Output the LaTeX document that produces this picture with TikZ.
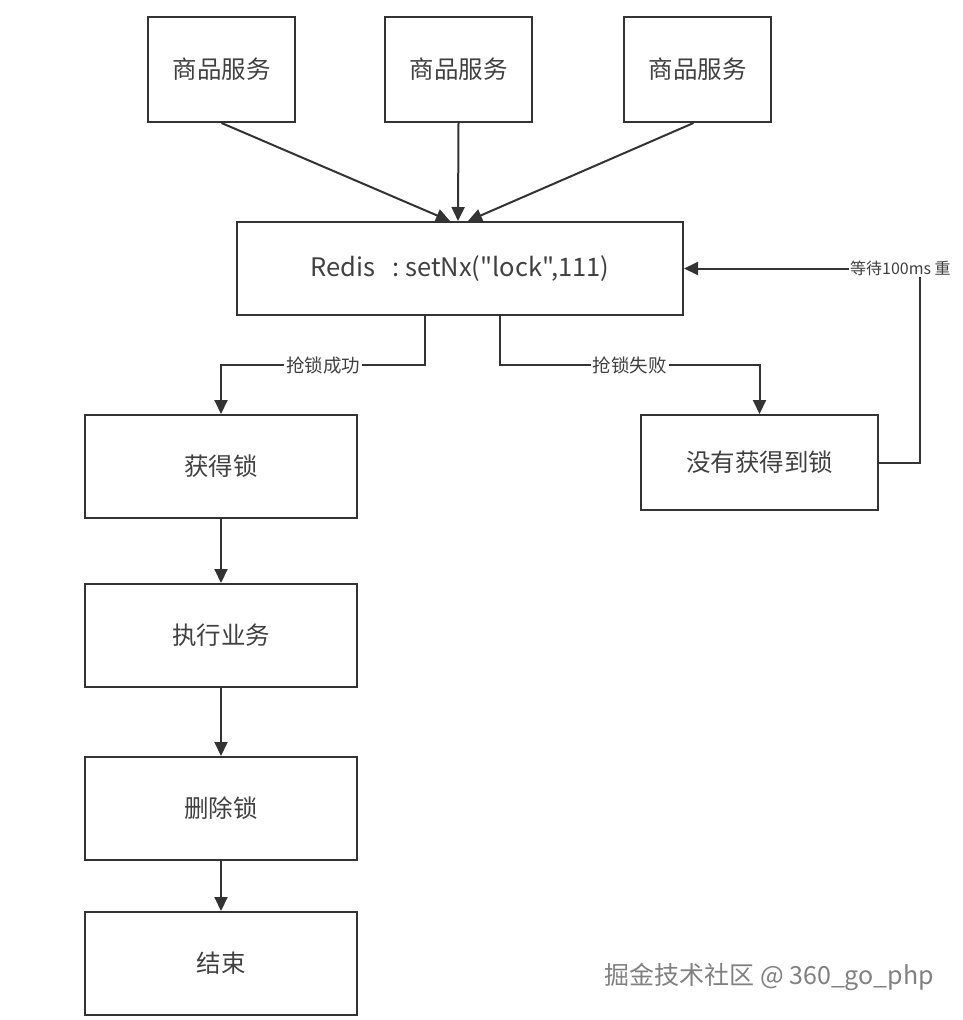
\documentclass[tikz,border=0pt]{standalone}
\usepackage{fontspec}
\setmainfont{Noto Sans CJK SC}
\newfontfamily\plainfont{Noto Sans CJK SC}
\usetikzlibrary{arrows.meta}
\definecolor{linegray}{HTML}{333333}
\definecolor{textgray}{HTML}{404040}

\begin{document}
\begin{tikzpicture}[x=1pt,y=-1pt,
    box/.style={draw=linegray, line width=2pt, inner sep=0pt, text=textgray,
      font=\fontsize{24.5}{28}\selectfont},
    arr/.style={draw=linegray, line width=2pt, -{Triangle[length=14pt,width=13pt]}},
    lbl/.style={fill=white, inner sep=2pt, text=textgray, font=\fontsize{18.5}{21}\selectfont}]
    \useasboundingbox (0,0) rectangle (962,1020);
    % Services
    \foreach \n/\x in {1/221.5,2/458.5,3/697.5} {
      \node[box, minimum width=147, minimum height=105] (svc\n) at (\x,69.5) {商品服务};
    }
    % Redis
    \node[box, minimum width=446, minimum height=93, font=\plainfont\fontsize{25.5}{29}\selectfont] (redis) at (460,268.5) {Redis\ \ \ :\ setNx("lock",111)};
    % Lock results
    \node[box, minimum width=272, minimum height=103] (lock) at (221,466.5) {获得锁};
    \node[box, minimum width=237, minimum height=95] (nolock) at (759.5,462.5) {没有获得到锁};
    \node[box, minimum width=272, minimum height=103] (work) at (221,635.5) {执行业务};
    \node[box, minimum width=272, minimum height=103] (unlock) at (221,808.5) {删除锁};
    \node[box, minimum width=272, minimum height=103] (finish) at (221,963.5) {结束};
    % Arrows
    \draw[arr] (svc1.south) -- ([xshift=-10]redis.north);
    \draw[arr] (svc2.south) -- ([xshift=-2]redis.north);
    \draw[arr] ([xshift=-4]svc3.south) -- ([xshift=8]redis.north);
    \draw[arr] ([xshift=-35]redis.south) -- ++(0,49) -| node[lbl, pos=0.25] (oklbl) {抢锁成功} (lock.north);
    \draw[arr] ([xshift=40]redis.south) -- ++(0,49) -| node[lbl, pos=0.25] (faillbl) {抢锁失败} (nolock.north);
    \coordinate (turn) at (920,268.5);
    \draw[arr] (nolock.east) -| (turn) -- (redis.east);
    \node[lbl, anchor=west, inner sep=1pt, font=\fontsize{16}{19}\selectfont] (waitlbl) at (849,268.5) {等待100ms 重};
    \foreach \a/\b in {lock/work,work/unlock,unlock/finish} {
      \draw[arr] (\a.south) -- (\b.north);
    }
    % Watermark
    \node[anchor=west, text=gray, font=\fontsize{25}{29}\selectfont] (mark) at (601,977) {掘金技术社区 @ 360\_go\_php};
\end{tikzpicture}
\end{document}
